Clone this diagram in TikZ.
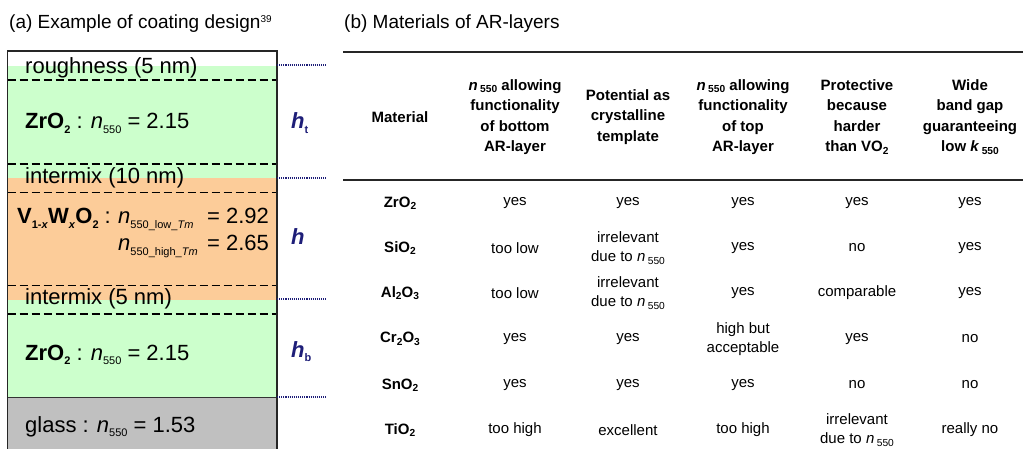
\documentclass[tikz,border=0pt]{standalone}
\usepackage{fontspec}
\setmainfont{Liberation Sans}
\definecolor{lgreen}{RGB}{204,255,204}
\definecolor{lorange}{RGB}{252,204,153}
\definecolor{lgrey}{RGB}{192,192,192}
\definecolor{navy}{RGB}{30,30,120}
\newcommand\mysub[1]{\raisebox{-0.4ex}{\scalebox{0.5}{#1}}}
\newcommand\tsub[1]{\raisebox{-0.3ex}{\scalebox{0.68}{#1}}}
\newcommand\nn{\textit{n}}
\begin{document}
\begin{tikzpicture}[x=1pt,y=-1pt,
  lay/.style={anchor=base west,inner sep=0pt,font=\fontsize{22}{26}\selectfont},
  hlab/.style={anchor=base west,inner sep=0pt,text=navy,font=\fontsize{22}{26}\selectfont\bfseries\itshape},
  ttl/.style={anchor=base west,inner sep=0pt,font=\fontsize{19}{22}\selectfont},
  hd/.style={align=center,inner sep=0pt,font=\fontsize{15}{20.5}\selectfont\bfseries},
  cell/.style={align=center,inner sep=0pt,font=\fontsize{15}{19}\selectfont},
  mat/.style={align=center,inner sep=0pt,font=\fontsize{15}{19}\selectfont\bfseries},
  dline/.style={dash pattern=on 8pt off 4pt,line width=1.2pt},
  dotl/.style={navy,densely dotted,line width=1.1pt},
  rule/.style={line width=1.8pt,black!85}]
\useasboundingbox (0,0) rectangle (1023,449);
% fills
\fill[lgreen] (7.5,66) rectangle (277,178);
\fill[lorange] (7.5,178) rectangle (277,300);
\fill[lgreen] (7.5,300) rectangle (277,397);
\fill[lgrey] (7.5,397) rectangle (277,449);
% dashed boundaries
\foreach \yy in {80,164,192.5,285.5,314} \draw[dline] (7.5,\yy) -- (277,\yy);
\draw[line width=1pt,black!80] (7.5,397) -- (277,397);
% box
\draw[line width=1.5pt,black!85] (7.5,449) -- (7.5,51) -- (277,51) -- (277,449);
% dotted markers
\coordinate (d1a) at (277,65); \coordinate (d1b) at (327,65);
\coordinate (d2a) at (277,178); \coordinate (d2b) at (327,178);
\coordinate (d3a) at (277,299); \coordinate (d3b) at (327,299);
\coordinate (d4a) at (277,397); \coordinate (d4b) at (327,397);
\draw[dotl] (d1a) -- (d1b);
\draw[dotl] (d2a) -- (d2b);
\draw[dotl] (d3a) -- (d3b);
\draw[dotl] (d4a) -- (d4b);
% titles
\node[ttl] (ta) at (9,29) {(a) Example of coating design\textsuperscript{\scalebox{0.75}{39}}};
\node[ttl] (tb) at (344,29) {(b) Materials of AR-layers};
% layer texts
\node[lay] (rough) at (25,74) {roughness (5 nm)};
\node[lay] (zr1) at (25,129) {\textbf{ZrO\mysub{2}} : \nn\mysub{550} = 2.15};
\node[lay] (im1) at (25,184) {intermix (10 nm)};
\node[lay] (v1a) at (17,224) {\textbf{V\mysub{1-\textit{x}}W\mysub{\textit{x}}O\mysub{2}} :};
\node[lay] (v1b) at (118,224) {\nn\mysub{550\_low\_\textit{Tm}}};
\node[lay] (v1c) at (207,224) {= 2.92};
\node[lay] (v2b) at (118,251) {\nn\mysub{550\_high\_\textit{Tm}}};
\node[lay] (v2c) at (207,251) {= 2.65};
\node[lay] (im2) at (25,304) {intermix (5 nm)};
\node[lay] (zr2) at (25,360) {\textbf{ZrO\mysub{2}} : \nn\mysub{550} = 2.15};
\node[lay] (gl) at (25,432) {glass : \nn\mysub{550} = 1.53};
\node[hlab] (ht) at (291,129) {h\mysub{\upshape t}};
\node[hlab] (hh) at (291,245) {h};
\node[hlab] (hb) at (291,357) {h\mysub{\upshape b}};
% table rules
\draw[rule] (343,52) -- (1023,52);
\draw[rule] (343,180) -- (1023,180);
% header
\node[hd] (h1) at (400,117) {Material};
\node[hd] (h2) at (515,117) {\textit{n}\,\tsub{550} allowing\\functionality\\of bottom\\AR-layer};
\node[hd] (h3) at (628,117) {Potential as\\crystalline\\template};
\node[hd] (h4) at (743,117) {\textit{n}\,\tsub{550} allowing\\functionality\\of top\\AR-layer};
\node[hd] (h5) at (857,117) {Protective\\because\\harder\\than VO\tsub{2}};
\node[hd] (h6) at (970,117) {Wide\\band gap\\guaranteeing\\low \textit{k}\,\tsub{550}};
% rows
\def\irr{irrelevant\\due to \nn\,\tsub{550}}
\node[mat] (m1) at (400,203) {ZrO\tsub{2}};
\node[cell] (c12) at (515,203) {yes};
\node[cell] (c13) at (628,203) {yes};
\node[cell] (c14) at (743,203) {yes};
\node[cell] (c15) at (857,203) {yes};
\node[cell] (c16) at (970,203) {yes};
\node[mat] (m2) at (400,248) {SiO\tsub{2}};
\node[cell] (c22) at (515,248) {too low};
\node[cell] (c23) at (628,248) {\irr};
\node[cell] (c24) at (743,248) {yes};
\node[cell] (c25) at (857,248) {no};
\node[cell] (c26) at (970,248) {yes};
\node[mat] (m3) at (400,293) {Al\tsub{2}O\tsub{3}};
\node[cell] (c32) at (515,293) {too low};
\node[cell] (c33) at (628,293) {\irr};
\node[cell] (c34) at (743,293) {yes};
\node[cell] (c35) at (857,293) {comparable};
\node[cell] (c36) at (970,293) {yes};
\node[mat] (m4) at (400,339) {Cr\tsub{2}O\tsub{3}};
\node[cell] (c42) at (515,339) {yes};
\node[cell] (c43) at (628,339) {yes};
\node[cell] (c44) at (743,339) {high but\\acceptable};
\node[cell] (c45) at (857,339) {yes};
\node[cell] (c46) at (970,339) {no};
\node[mat] (m5) at (400,385) {SnO\tsub{2}};
\node[cell] (c52) at (515,385) {yes};
\node[cell] (c53) at (628,385) {yes};
\node[cell] (c54) at (743,385) {yes};
\node[cell] (c55) at (857,385) {no};
\node[cell] (c56) at (970,385) {no};
\node[mat] (m6) at (400,430) {TiO\tsub{2}};
\node[cell] (c62) at (515,430) {too high};
\node[cell] (c63) at (628,430) {excellent};
\node[cell] (c64) at (743,430) {too high};
\node[cell] (c65) at (857,430) {\irr};
\node[cell] (c66) at (970,430) {really no};
\end{tikzpicture}
\end{document}
